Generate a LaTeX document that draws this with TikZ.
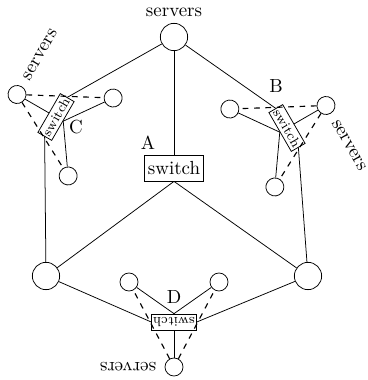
\documentclass[tikz,border=0pt]{standalone}
\usepackage{amsmath}
\usepackage{tikz}

\begin{document}
\begin{tikzpicture}[x=0.5275pt, y=0.5275pt,
  main/.style = {draw, rectangle, inner xsep=1.6pt, minimum height=13.5pt},
  sub/.style = {draw, rectangle, font=\scriptsize, inner xsep=0.8pt, inner ysep=0pt, minimum height=8.4pt},
  big/.style = {draw, circle, minimum size=14.4pt, inner sep=0pt},
  srv/.style = {draw, circle, minimum size=9.5pt, inner sep=0pt},
  link/.style = {semithick, dashed}]

\useasboundingbox (0,0) rectangle (368,380);

\node[big, label=above:servers] (t) at (174,343) {};
\node[big] (l) at (46,104) {};
\node[big] (r) at (308,104) {};
\node[main] (A) at (174,212) {switch};
\node (a) at (148,237) {A};

% group C
\begin{scope}[shift={(56,263)}, rotate=60, transform shape]
\node[sub] (C) at (0,0) {switch};
\node[srv] (C1) at (0,45) {};
\node[srv] (C2) at (45,-40) {};
\node[srv] (C3) at (-45,-40) {};
\node (Cs) at (46,45) {servers};
\end{scope}
\node (c) at (76,253) {C};

% group B
\begin{scope}[shift={(287,252)}, rotate=-60, transform shape]
\node[sub] (B) at (0,0) {switch};
\node[srv] (B1) at (0,45) {};
\node[srv] (B2) at (45,-40) {};
\node[srv] (B3) at (-45,-40) {};
\node (Bs) at (46,45) {servers};
\end{scope}
\node (b) at (276,294) {B};

% group D
\begin{scope}[shift={(174,58)}, rotate=180, transform shape]
\node[sub] (D) at (0,0) {switch};
\node[srv] (D1) at (0,45) {};
\node[srv] (D2) at (45,-40) {};
\node[srv] (D3) at (-45,-40) {};
\node (Ds) at (46,45) {servers};
\end{scope}
\node (d) at (174,83) {D};

% backbone
\draw (t) -- (A.north);
\draw (A.south) -- (l);
\draw (A.south) -- (r);
\draw (t) -- (C.east);
\draw (C.west) -- (l);
\draw (t) -- (B.west);
\draw (B.east) -- (r);
\draw (l) -- (D.east);
\draw (r) -- (D.west);

% servers to their switch
\draw (C1) -- (C.north);
\draw (C2) -- (C.south);
\draw (C3) -- (C.south);
\draw[link] (C1) -- (C2);
\draw[link] (C1) -- (C3);

\draw (B1) -- (B.north);
\draw (B2) -- (B.south);
\draw (B3) -- (B.south);
\draw[link] (B1) -- (B2);
\draw[link] (B1) -- (B3);

\draw (D1) -- (D.north);
\draw (D2) -- (D.south);
\draw (D3) -- (D.south);
\draw[link] (D1) -- (D2);
\draw[link] (D1) -- (D3);

\end{tikzpicture}
\end{document}
